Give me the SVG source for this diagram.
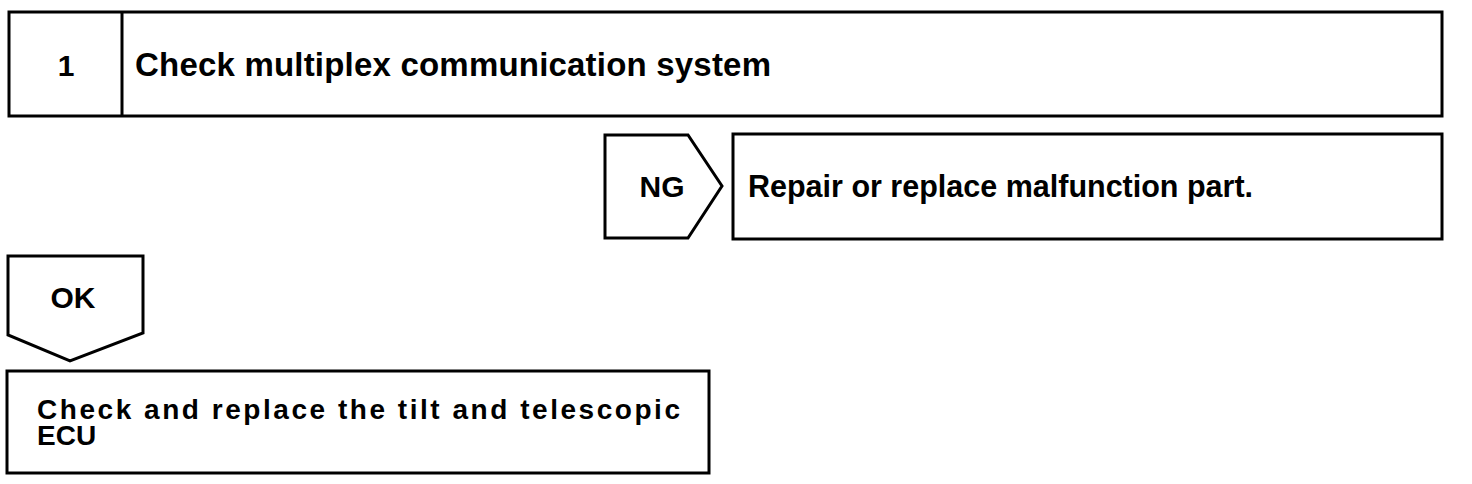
<svg xmlns="http://www.w3.org/2000/svg" width="1472" height="484" viewBox="0 0 1472 484">
<style>
.box{fill:#fff;stroke:#000;stroke-width:3;stroke-linejoin:miter}
.t{font-family:"Liberation Sans",Arial,sans-serif;font-weight:bold;fill:#000}
</style>
<rect width="1472" height="484" fill="#fff"/>
<g id="step1">
<rect class="box" x="9" y="12" width="1433" height="104"/>
<line x1="122" y1="12" x2="122" y2="116" stroke="#000" stroke-width="3"/>
<text class="t" x="66" y="76" font-size="30" text-anchor="middle">1</text>
<text class="t" x="135" y="76" font-size="33" textLength="636" lengthAdjust="spacing">Check multiplex communication system</text>
</g>
<g id="connectors">
<g id="ng">
<polygon class="box" points="605,135 688,135 722,186 688,238 605,238"/>
<text class="t" x="662" y="197" font-size="30" text-anchor="middle">NG</text>
</g>
<g id="ok">
<polygon class="box" points="8,256 143,256 143,333 70,361 8,335"/>
<text class="t" x="73" y="308" font-size="30" text-anchor="middle">OK</text>
</g>
</g>
<g id="repair">
<rect class="box" x="733" y="134" width="709" height="105"/>
<text class="t" x="748" y="197" font-size="30.5">Repair or replace malfunction part.</text>
</g>
<g id="ecu">
<rect class="box" x="7" y="371" width="702" height="102"/>
<text class="t" x="37" y="419" font-size="28" textLength="643" lengthAdjust="spacing">Check and replace the tilt and telescopic</text>
<text class="t" x="37" y="445" font-size="28">ECU</text>
</g>
</svg>
